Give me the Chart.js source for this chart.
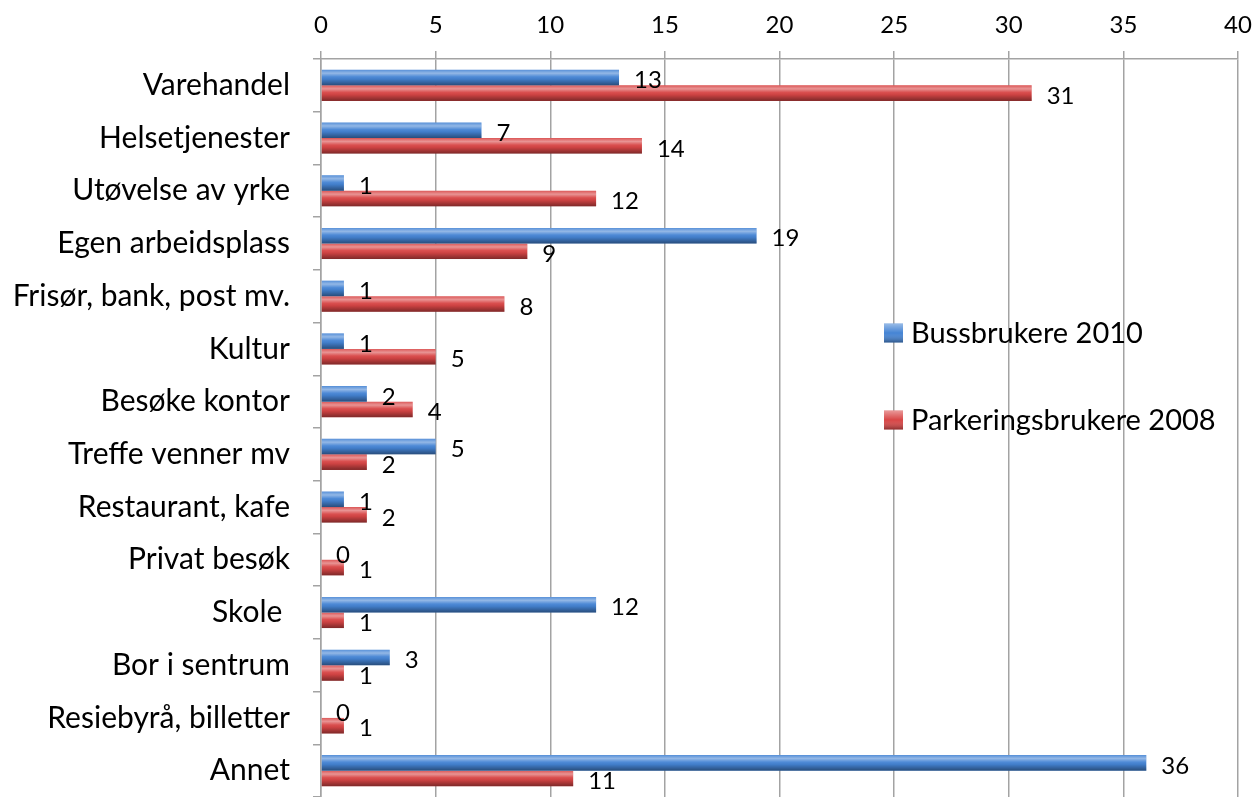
<!DOCTYPE html>
<html>
<head>
<meta charset="utf-8">
<script src="https://cdn.jsdelivr.net/npm/chart.js@4"></script>
<style>
  html, body { margin: 0; padding: 0; background: #fff; }
  #wrap { width: 1254px; height: 797px; }
</style>
</head>
<body>
<div id="wrap"><canvas id="myChart" width="1254" height="797"></canvas></div>
<script>
// Categories
const categories = ["Varehandel", "Helsetjenester", "Utøvelse av yrke", "Egen arbeidsplass",
  "Frisør, bank, post mv.", "Kultur", "Besøke kontor", "Treffe venner mv", "Restaurant, kafe",
  "Privat besøk", "Skole ", "Bor i sentrum", "Resiebyrå, billetter", "Annet"];

// Series
const busLabel = "Bussbrukere 2010";
const busValues = [13, 7, 1, 19, 1, 1, 2, 5, 1, 0, 12, 3, 0, 36];
const parkLabel = "Parkeringsbrukere 2008";
const parkValues = [31, 14, 12, 9, 8, 5, 4, 2, 2, 1, 1, 1, 1, 11];

// Axis
const xMin = 0;
const xMax = 40;
const xStep = 5;

const fontFamily = "Lato, 'Liberation Sans', sans-serif";
const gridColor = "#a3a3a3";
const blue = "#4584d4";
const red = "#d84646";

// shading on top of the bars + value labels
const barStyle = {
  id: "barStyle",
  afterDatasetsDraw(chart) {
    const ctx = chart.ctx;
    ctx.save();
    chart.data.datasets.forEach((ds, di) => {
      chart.getDatasetMeta(di).data.forEach((bar) => {
        const { x, y, base, height } = bar.getProps(["x", "y", "base", "height"], true);
        const top = y - height / 2;
        if (x - base > 0.5) {
          const g = ctx.createLinearGradient(0, top, 0, top + height);
          g.addColorStop(0, "rgba(255,255,255,0.10)");
          g.addColorStop(0.22, "rgba(255,255,255,0.42)");
          g.addColorStop(0.45, "rgba(255,255,255,0.05)");
          g.addColorStop(0.6, "rgba(0,0,0,0.05)");
          g.addColorStop(1, "rgba(0,0,0,0.42)");
          ctx.fillStyle = g;
          ctx.fillRect(base, top, x - base, height);
        }
      });
    });
    // labels
    ctx.fillStyle = "#000";
    ctx.font = "24px " + fontFamily;
    ctx.textBaseline = "middle";
    ctx.textAlign = "left";
    chart.data.datasets.forEach((ds, di) => {
      chart.getDatasetMeta(di).data.forEach((bar, i) => {
        const { x, y } = bar.getProps(["x", "y"], true);
        ctx.fillText(ds.data[i], x + 15, y + 3);
      });
    });
    ctx.restore();
  }
};

// legend inside the plot
const legendBox = {
  id: "legendBox",
  afterDraw(chart) {
    const ctx = chart.ctx;
    const lx = 884;
    const rows = [333, 420];
    ctx.save();
    ctx.font = "29px " + fontFamily;
    ctx.textBaseline = "middle";
    ctx.textAlign = "left";
    chart.data.datasets.forEach((ds, di) => {
      const cy = rows[di];
      const s = 19;
      ctx.fillStyle = ds.backgroundColor;
      ctx.fillRect(lx, cy - s / 2, s, s);
      const g = ctx.createLinearGradient(0, cy - s / 2, 0, cy + s / 2);
      g.addColorStop(0, "rgba(255,255,255,0.45)");
      g.addColorStop(0.5, "rgba(255,255,255,0)");
      g.addColorStop(1, "rgba(0,0,0,0.35)");
      ctx.fillStyle = g;
      ctx.fillRect(lx, cy - s / 2, s, s);
      ctx.fillStyle = "#000";
      ctx.fillText(ds.label, lx + 27, cy + 1);
    });
    ctx.restore();
  }
};

const ctx = document.getElementById("myChart").getContext("2d");
const myChart = new Chart(ctx, {
  type: "bar",
  data: {
    labels: categories,
    datasets: [
      { label: busLabel, data: busValues, backgroundColor: blue, borderWidth: 0 },
      { label: parkLabel, data: parkValues, backgroundColor: red, borderWidth: 0 }
    ]
  },
  options: {
    indexAxis: "y",
    responsive: false,
    animation: false,
    layout: { padding: { top: 0, right: 16, bottom: 0, left: 0 } },
    datasets: { bar: { barPercentage: 1, categoryPercentage: 0.59 } },
    plugins: { legend: { display: false }, tooltip: { enabled: false } },
    scales: {
      x: {
        position: "top",
        min: xMin,
        max: xMax,
        ticks: { stepSize: xStep, color: "#000", font: { family: fontFamily, size: 24 }, padding: 11 },
        grid: { color: gridColor, lineWidth: 1.5, tickLength: 8, drawTicks: true },
        border: { color: gridColor, width: 1.5 },
        afterFit: (s) => { s.height = 59; s.paddingLeft = 0; s.paddingRight = 0; }
      },
      y: {
        ticks: { color: "#000", font: { family: fontFamily, size: 30 }, padding: 23 },
        grid: { drawOnChartArea: false, drawTicks: true, tickLength: 8, color: gridColor, lineWidth: 1.5, offset: true },
        border: { color: gridColor, width: 1.5 },
        afterFit: (s) => { s.width = 321; s.paddingTop = 0; s.paddingBottom = 0; }
      }
    }
  },
  plugins: [barStyle, legendBox]
});
</script>
</body>
</html>
